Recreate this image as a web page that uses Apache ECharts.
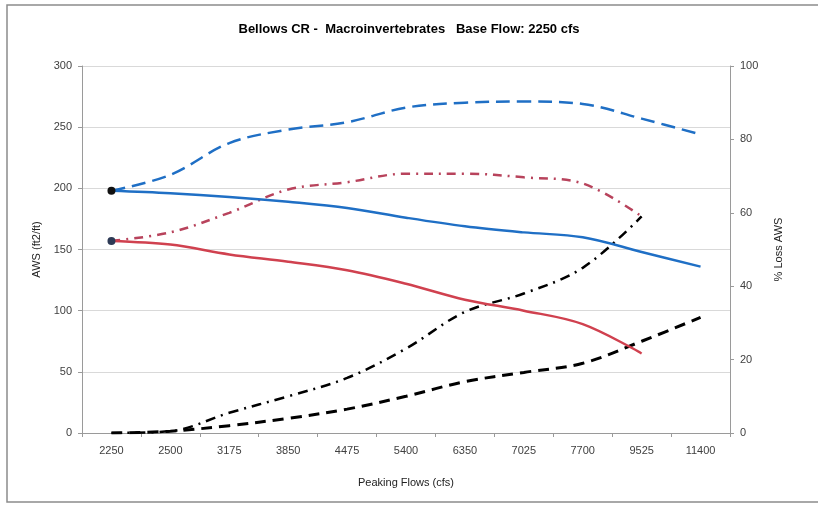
<!DOCTYPE html>
<html>
<head>
<meta charset="utf-8">
<script src="https://cdn.jsdelivr.net/npm/echarts@6/dist/echarts.min.js"></script>
<style>
	html, body { margin: 0; padding: 0; background: #fff; }
	#chart { width: 818px; height: 505px; }
</style>
</head>
<body>
<div id="chart"></div>
<script>
// 資料
var flows = ["2250", "2500", "3175", "3850", "4475", "5400", "6350", "7025", "7700", "9525", "11400"];
var awsBlue = [198, 196, 193, 189, 184, 176, 169, 164, 160, 148, 136];
var awsRed = [157, 154, 146, 140, 133, 122, 109, 100, 89, 65, null];
var awsBlueDash = [198, 211, 237, 248, 254, 266, 270, 271, 269, 257, 244];
var awsRedDash = [157, 164, 180, 199, 205, 212, 212, 209, 204, 177, null];
var lossBlue = [0, 0.5, 2, 4, 6.5, 10, 14, 16.5, 19, 25, 31.5];
var lossRed = [0, 0.5, 5.5, 10, 15, 23, 33, 38, 45, 59, null];

// 第一點加上圓點
function withStart(arr, dot) {
	return arr.map(function (v, i) {
		if (i === 0) {
			return { value: v, symbol: "circle", symbolSize: 8, itemStyle: { color: dot } };
		}
		return v;
	});
}

function line(name, data, color, type, width, yIdx, z) {
	return {
		name: name,
		type: "line",
		smooth: 0.35,
		yAxisIndex: yIdx,
		symbol: "none",
		z: z,
		lineStyle: { color: color, type: type, width: width },
		itemStyle: { color: color },
		data: data
	};
}

var myChart = echarts.init(document.getElementById("chart"), null, { renderer: "canvas" });
var font = "Liberation Sans, Arial";
var axisText = { color: "#404040", fontFamily: font, fontSize: 11 };
var nameText = { color: "#222", fontFamily: font, fontSize: 11 };
var option = {
	animation: false,
	backgroundColor: "#fff",
	title: {
		text: "Bellows CR -  Macroinvertebrates   Base Flow: 2250 cfs",
		left: "center",
		top: 18,
		textStyle: { fontFamily: font, fontSize: 13, fontWeight: "bold", color: "#000" }
	},
	// 外框
	graphic: [
		{
			type: "rect",
			shape: { x: 7, y: 5, width: 830, height: 497 },
			style: { fill: "none", stroke: "#8c8c8c", lineWidth: 1.5 },
			z: -1
		}
	],
	grid: { left: 82, right: 88, top: 66, bottom: 72 },
	xAxis: {
		type: "category",
		data: flows,
		boundaryGap: true,
		name: "Peaking Flows (cfs)",
		nameLocation: "middle",
		nameGap: 44,
		nameTextStyle: nameText,
		axisLine: { lineStyle: { color: "#9a9a9a" } },
		axisTick: { show: true, length: 4, lineStyle: { color: "#9a9a9a" } },
		axisLabel: Object.assign({ margin: 12 }, axisText)
	},
	yAxis: [
		{
			type: "value",
			min: 0,
			max: 300,
			interval: 50,
			name: "AWS (ft2/ft)",
			nameLocation: "middle",
			nameGap: 27,
			nameTextStyle: nameText,
			axisLine: { show: true, lineStyle: { color: "#9a9a9a" } },
			axisTick: { show: true, length: 4, lineStyle: { color: "#9a9a9a" } },
			splitLine: { lineStyle: { color: "#d9d9d9" } },
			axisLabel: Object.assign({ margin: 10 }, axisText)
		},
		{
			type: "value",
			min: 0,
			max: 100,
			interval: 20,
			name: "% Loss AWS",
			nameLocation: "middle",
			nameRotate: 90,
			nameGap: 43,
			nameTextStyle: nameText,
			axisLine: { show: true, lineStyle: { color: "#9a9a9a" } },
			axisTick: { show: true, length: 4, lineStyle: { color: "#9a9a9a" } },
			splitLine: { show: false },
			axisLabel: Object.assign({ margin: 10 }, axisText)
		}
	],
	series: [
		line("AWS dash blue", awsBlueDash, "#1f6fc5", [14, 7], 2.5, 0, 2),
		line("AWS dash red", awsRedDash, "#b8435c", [9, 6, 2, 6], 2.5, 0, 2),
		line("Loss red", lossRed, "#000", [10, 6, 2, 6], 2.5, 1, 2),
		line("Loss blue", lossBlue, "#000", [11, 7], 3, 1, 2),
		line("AWS blue", withStart(awsBlue, "#111"), "#1f6fc5", "solid", 2.5, 0, 3),
		line("AWS red", withStart(awsRed, "#2d3a55"), "#d0414f", "solid", 2.5, 0, 3)
	]
};
myChart.setOption(option);
window.addEventListener("resize", myChart.resize);
</script>
</body>
</html>
